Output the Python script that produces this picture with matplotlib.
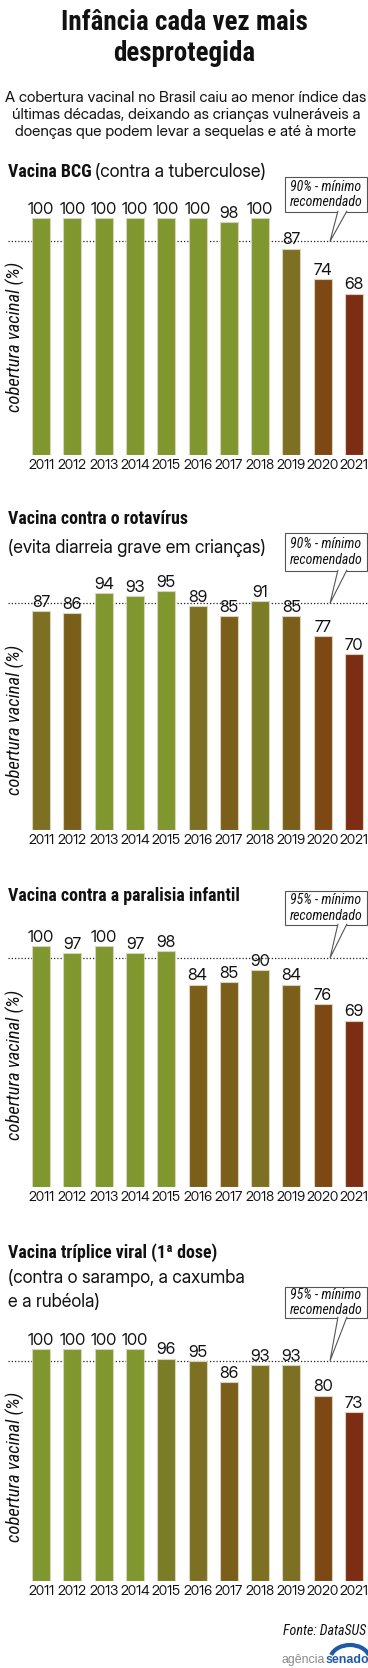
import time
import matplotlib
matplotlib.use("Agg")
import matplotlib.pyplot as plt
from matplotlib import font_manager as fm
from matplotlib.font_manager import FontProperties
from matplotlib.textpath import TextPath
from matplotlib.patches import Rectangle, Polygon, Arc

# ---------------- data ----------------
years = ["2011", "2012", "2013", "2014", "2015", "2016", "2017", "2018", "2019", "2020", "2021"]
bcg = [100, 100, 100, 100, 100, 100, 98, 100, 87, 74, 68]
rotavirus = [87, 86, 94, 93, 95, 89, 85, 91, 85, 77, 70]
paralisia = [100, 97, 100, 97, 98, 84, 85, 90, 84, 76, 69]
triplice = [100, 100, 100, 100, 96, 95, 86, 93, 93, 80, 73]
thresholds = [90, 90, 95, 95]

title = ["Infância cada vez mais", "desprotegida"]
subtitle = ["A cobertura vacinal no Brasil caiu ao menor índice das",
            "últimas décadas, deixando as crianças vulneráveis a",
            "doenças que podem levar a sequelas e até à morte"]
panel_titles = [
    [("Vacina BCG", "(contra a tuberculose)")],
    [("Vacina contra o rotavírus", ""), ("", "(evita diarreia grave em crianças)")],
    [("Vacina contra a paralisia infantil", "")],
    [("Vacina tríplice viral (1ª dose)", ""), ("", "(contra o sarampo, a caxumba"), ("", "e a rubéola)")],
]
ylabel = "cobertura vacinal (%)"
source = "Fonte: DataSUS"


# ---------------- font choice: closest to a condensed humanist face ----------------
BASES = ("Liberation Sans", "Roboto", "Open Sans", "Lato", "Noto Sans", "DejaVu Sans", "Inter")
OKWORDS = {"Condensed", "SemiCondensed", "ExtraCondensed", "Semi", "Extra", "Narrow", "Light",
           "Medium", "SemiBold", "Bold", "Black", "Thin", "ExtraLight", "ExtraBold", "Regular",
           "Display", "Cond", "Italic"}


def ok_name(n):
    for b in BASES:
        if n == b:
            return True
        if n.startswith(b + " "):
            rest = n[len(b) + 1:].split()
            return all(r in OKWORDS for r in rest)
    return False


def wnum(w):
    if isinstance(w, (int, float)):
        return w
    return fm.weight_dict.get(str(w).lower(), 400)


def measure(fname):
    fp = FontProperties(fname=fname)
    try:
        h = TextPath((0, 0), "H", size=100, prop=fp).get_extents().height
        r_dig = TextPath((0, 0), "2011", size=100, prop=fp).get_extents().width / h
        r_txt = TextPath((0, 0), "Vacina BCG", size=100, prop=fp).get_extents().width / h
    except Exception:
        return None
    if h <= 0:
        return None
    return r_dig, r_txt


t_start = time.time()
seen = set()
entries = []
for f in fm.fontManager.ttflist:
    if time.time() - t_start > 30:
        break
    if not ok_name(f.name) or f.fname in seen:
        continue
    if not f.fname.lower().endswith((".ttf", ".otf")):
        continue
    seen.add(f.fname)
    m = measure(f.fname)
    if m is None:
        continue
    entries.append((f, wnum(f.weight), f.style in ("italic", "oblique"), m))


def pick(italic, wt, tol, key, target, fallback):
    best, bs = None, 1e9
    for f, w, it, m in entries:
        if it != italic or abs(w - wt) > tol:
            continue
        sc = abs(m[key] - target) + abs(w - wt) / 800.0
        if sc < bs:
            best, bs = f, sc
    if best is None:
        return FontProperties(family=fallback, weight=wt, style="italic" if italic else "normal")
    return FontProperties(fname=best.fname)


FP_BOLD = pick(False, 700, 150, 1, 6.4, "Liberation Sans")
FP_REG = pick(False, 400, 60, 0, 1.95, "Liberation Sans")
FP_IT = pick(True, 400, 60, 0, 1.95, "Liberation Sans")
FP_LOGO = FontProperties(family=["Liberation Sans", "DejaVu Sans"])
FP_LOGO_B = FontProperties(family=["Liberation Sans", "DejaVu Sans"], weight="bold")

# ---------------- styles ----------------
PAL = {"g": "#80962E", "og": "#7A7D26", "o": "#7D7023", "bo": "#7A5E1A",
       "b": "#7D4814", "r": "#7D2D14"}
bar_colors = [
    ["g"] * 8 + ["o", "b", "r"],
    ["o", "bo", "g", "g", "g", "o", "bo", "og", "bo", "b", "r"],
    ["g"] * 5 + ["bo", "bo", "o", "bo", "b", "r"],
    ["g"] * 4 + ["og", "o", "bo", "o", "o", "b", "r"],
]
W, H = 368, 1668
zero_px = [455, 830, 1186.7, 1580.7]
scale_px = [2.373, 2.519, 2.407, 2.314]
title_base = [[176.5], [524, 553], [900.5], [1258, 1283, 1307]]
box_tb = [(177, 212), (533, 571), (891, 925), (1287, 1318)]
ylab_c = [337, 720, 1065, 1467]
INK = "#111111"

fig = plt.figure(figsize=(W / 100, H / 100), dpi=100)
fig.patch.set_facecolor("white")
renderer = fig.canvas.get_renderer()


def width_at(txt, size, fp):
    t = fig.text(0, 0, txt, fontproperties=fp, fontsize=size)
    w = t.get_window_extent(renderer).width
    t.remove()
    return w


def fit(txt, target, maxsize, fp):
    w = width_at(txt, 10, fp)
    return min(maxsize, 10 * target / w)


ov = fig.add_axes([0, 0, 1, 1], zorder=10)
ov.set_xlim(0, W)
ov.set_ylim(H, 0)
ov.axis("off")
ov.patch.set_alpha(0)

fs_title = fit(title[0], 246, 22, FP_BOLD)
fs_sub = fit(subtitle[0], 361, 14, FP_REG)
wb = width_at(panel_titles[0][0][0] + " ", 10, FP_BOLD)
wr = width_at(panel_titles[0][0][1], 10, FP_REG)
fs_ptitle = min(17, 10 * 258 / (wb + wr))
fs_val = fit("100", 26, 16.5, FP_REG)
fs_year = fit("2011", 26, 14, FP_REG)
fs_ylab = fit(ylabel, 150, 15, FP_IT)
fs_call = fit("recomendado", 73, 12, FP_IT)
fs_src = fit(source, 83, 12, FP_IT)

ov.text(184, 30, title[0], ha="center", va="baseline", fontproperties=FP_BOLD, fontsize=fs_title, color=INK)
ov.text(184, 61, title[1], ha="center", va="baseline", fontproperties=FP_BOLD, fontsize=fs_title, color=INK)
for i, line in enumerate(subtitle):
    ov.text(186, 102 + 17 * i, line, ha="center", va="baseline", fontproperties=FP_REG,
            fontsize=fs_sub, color=INK)

pitch = 31.3
x0 = 41.0
xlim = (-x0 / pitch, (W - x0) / pitch)

series = [bcg, rotavirus, paralisia, triplice]
for p, vals in enumerate(series):
    z = zero_px[p]
    s = scale_px[p]
    ax = fig.add_axes([0, 1 - z / H, 1, 100 * s / H])
    ax.set_xlim(*xlim)
    ax.set_ylim(0, 100)
    xs = list(range(len(years)))
    cols = [PAL[c] for c in bar_colors[p]]
    ax.bar(xs, vals, width=18 / pitch, color=cols, edgecolor="#d8d3bd", linewidth=0.8, zorder=3)
    ax.axhline(thresholds[p], xmin=8 / W, xmax=1, color="#222222", lw=0.9,
               ls=(0, (1, 1.6)), zorder=2)
    for x, v in zip(xs, vals):
        ax.annotate(str(v), (x, v), xytext=(0, 3.0), textcoords="offset points",
                    ha="center", va="baseline", fontproperties=FP_REG, fontsize=fs_val,
                    color=INK, annotation_clip=False)
    ax.set_xticks(xs)
    ax.set_xticklabels(years, fontproperties=FP_REG, fontsize=fs_year, color=INK)
    ax.tick_params(axis="x", length=0, pad=3.0)
    ax.set_yticks([])
    for sp in ax.spines.values():
        sp.set_visible(False)
    ax.patch.set_alpha(0)

    ov.text(15, ylab_c[p], ylabel, rotation=90, ha="center", va="center",
            fontproperties=FP_IT, fontsize=fs_ylab, color=INK)

    for li, (bold, reg) in enumerate(panel_titles[p]):
        yb = title_base[p][li]
        xcur = 8
        if bold:
            t = ov.text(xcur, yb, bold, ha="left", va="baseline", fontproperties=FP_BOLD,
                        fontsize=fs_ptitle, color=INK)
            bb = t.get_window_extent(renderer)
            xcur = bb.x1 + fs_ptitle * 0.3
        if reg:
            ov.text(xcur, yb, reg, ha="left", va="baseline", fontproperties=FP_REG,
                    fontsize=fs_ptitle, color=INK)

    tip_y = z - thresholds[p] * s
    bt, bbm = box_tb[p]
    ov.add_patch(Rectangle((285, bt), 81.5, bbm - bt, facecolor="white",
                           edgecolor="#555555", lw=0.8, zorder=5))
    ov.add_patch(Polygon([(338, bbm - 1.2), (330, tip_y), (347, bbm - 1.2)], closed=False,
                         facecolor="white", edgecolor="#555555", lw=0.8, zorder=6))
    ov.text(326, (bt + bbm) / 2, f"{thresholds[p]}% - mínimo\nrecomendado", ha="center",
            va="center", fontproperties=FP_IT, fontsize=fs_call, color=INK,
            linespacing=1.1, zorder=7)

ov.text(366, 1635, source, ha="right", va="baseline", fontproperties=FP_IT, fontsize=fs_src, color=INK)
fs_logo = fit("agênciasenado", 84, 9.5, FP_LOGO)
t = ov.text(282, 1663, "agência", ha="left", va="baseline", fontproperties=FP_LOGO,
            fontsize=fs_logo, color="#8a8a8a")
bb = t.get_window_extent(renderer)
ov.text(bb.x1, 1663, "senado", ha="left", va="baseline", fontproperties=FP_LOGO_B,
        fontsize=fs_logo, color="#1f5aa6")
ov.add_patch(Arc((350, 1660), 40, 30, theta1=195, theta2=345, color="#1f5aa6", lw=3.0))

fig.savefig("out.png", dpi=100, facecolor="white")
